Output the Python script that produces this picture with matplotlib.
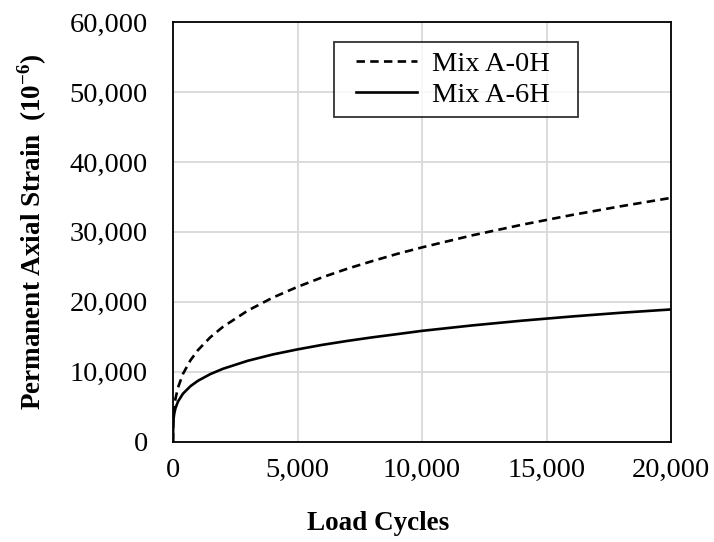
import matplotlib
matplotlib.use("Agg")
import matplotlib.pyplot as plt
from matplotlib.ticker import FuncFormatter
from matplotlib.legend_handler import HandlerLine2D

plt.rcParams["font.family"] = ["Liberation Serif", "DejaVu Serif"]
plt.rcParams["mathtext.fontset"] = "custom"
plt.rcParams["mathtext.rm"] = "Liberation Serif"
plt.rcParams["mathtext.bf"] = "Liberation Serif:bold"

# Load cycles and permanent axial strain (microstrain)
load_cycles = [0, 10, 25, 50, 100, 200, 400, 700, 1000, 1500, 2000, 3000,
               4000, 5000, 6000, 7000, 8000, 9000, 10000, 12000, 14000,
               16000, 18000, 20000]
strain_mix_a_0h = [0, 2900, 3920, 4910, 6160, 7730, 9700, 11640, 13090,
                   14940, 16410, 18740, 20590, 22140, 23510, 24730, 25820,
                   26850, 27780, 29490, 31010, 32400, 33670, 34860]
strain_mix_a_6h = [0, 2640, 3350, 4010, 4800, 5740, 6870, 7940, 8710,
                   9670, 10420, 11570, 12470, 13200, 13850, 14410, 14920,
                   15380, 15850, 16620, 17300, 17900, 18440, 18910]

x_ticks = [0, 5000, 10000, 15000, 20000]
y_ticks = [0, 10000, 20000, 30000, 40000, 50000, 60000]

fig = plt.figure(figsize=(7.14, 5.42), dpi=100)
ax = fig.add_axes([0.2423, 0.185, 0.6975, 0.7744])

ax.plot(load_cycles, strain_mix_a_0h, color="black", lw=1.9,
        linestyle=(0, (3.2, 2.0)), label="Mix A-0H")
ax.plot(load_cycles, strain_mix_a_6h, color="black", lw=1.9,
        linestyle="-", label="Mix A-6H")

ax.set_xlim(0, 20000)
ax.set_ylim(0, 60000)
ax.set_xticks(x_ticks)
ax.set_yticks(y_ticks)
fmt = FuncFormatter(lambda v, p: f"{int(v):,}")
ax.xaxis.set_major_formatter(fmt)
ax.yaxis.set_major_formatter(fmt)

ax.grid(True, color="#d9d9d9", lw=1.3)
ax.set_axisbelow(True)
for s in ax.spines.values():
    s.set_color("black")
    s.set_linewidth(1.3)

ax.tick_params(axis="both", length=0, labelsize=20.5, colors="black")
ax.tick_params(axis="y", pad=18)
ax.tick_params(axis="x", pad=12)

fig.text(0.53, 0.035, "Load Cycles", ha="center", va="center",
         fontsize=19.5, fontweight="bold")
fig.text(0.045, 0.572, r"Permanent Axial Strain  (10$^{\mathbf{-6}}$)",
         ha="center", va="center", rotation=90, fontsize=19.5,
         fontweight="bold")

# legend sample lines are inset from both sides of the handle box
handler = HandlerLine2D(numpoints=2, marker_pad=0.47)
leg = ax.legend(loc="upper left", bbox_to_anchor=(0.323, 0.5, 0.49, 0.452),
                mode="expand",
                fontsize=20.5, frameon=True, fancybox=False,
                handlelength=3.1, handletextpad=0.05, borderpad=0.3,
                labelspacing=0.2, borderaxespad=0, numpoints=2,
                handler_map={plt.Line2D: handler})
leg.get_frame().set_edgecolor("black")
leg.get_frame().set_linewidth(1.3)

fig.savefig("out.png", dpi=100)
